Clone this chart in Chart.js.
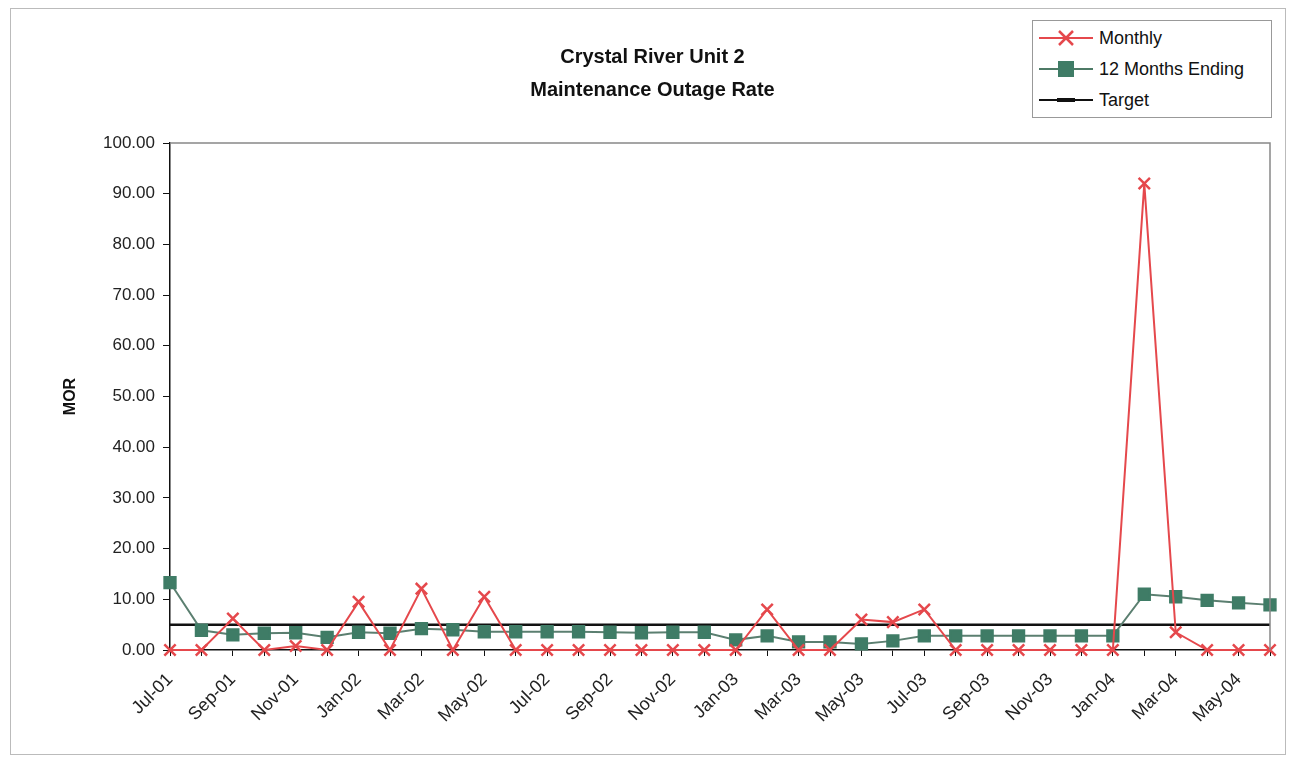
<!DOCTYPE html>
<html>
<head>
<meta charset="utf-8">
<script src="https://cdn.jsdelivr.net/npm/chart.js@4.4.1/dist/chart.umd.min.js"></script>
<style>
  html,body{margin:0;padding:0;background:#fff;}
  #wrap{position:relative;width:1293px;height:762px;}
  #title{position:absolute;left:0;width:1305px;top:40px;text-align:center;font:bold 20px "Liberation Sans",Arial,sans-serif;color:#111;line-height:33px;}
  #legend{position:absolute;left:1032px;top:20px;width:238px;height:96px;border:1px solid #999;background:#fff;font:18px "Liberation Sans",Arial,sans-serif;color:#111;}
  #legend .row{position:absolute;left:6px;height:24px;display:flex;align-items:center;}
  #legend svg{margin-right:6px;}
</style>
</head>
<body>
<div id="wrap">
  <canvas id="c" width="1293" height="762"></canvas>
  <div id="title">Crystal River Unit 2<br>Maintenance Outage Rate</div>
  <div id="legend">
    <div class="row" style="top:5px"><svg width="54" height="20"><line x1="0" y1="10" x2="54" y2="10" stroke="#e5484c" stroke-width="2"/><path d="M20 3 L34 17 M34 3 L20 17" stroke="#e5484c" stroke-width="2.5"/></svg>Monthly</div>
    <div class="row" style="top:36px"><svg width="54" height="20"><line x1="0" y1="10" x2="54" y2="10" stroke="#4d7a66" stroke-width="2"/><rect x="19" y="2" width="16" height="16" fill="#3f7c66"/></svg>12 Months Ending</div>
    <div class="row" style="top:67px"><svg width="54" height="20"><line x1="0" y1="10" x2="54" y2="10" stroke="#111" stroke-width="2"/><rect x="18" y="8" width="18" height="4" fill="#111"/></svg>Target</div>
  </div>
</div>
<script>
const months = ["Jul-01","Aug-01","Sep-01","Oct-01","Nov-01","Dec-01","Jan-02","Feb-02","Mar-02","Apr-02","May-02","Jun-02",
  "Jul-02","Aug-02","Sep-02","Oct-02","Nov-02","Dec-02","Jan-03","Feb-03","Mar-03","Apr-03","May-03","Jun-03",
  "Jul-03","Aug-03","Sep-03","Oct-03","Nov-03","Dec-03","Jan-04","Feb-04","Mar-04","Apr-04","May-04","Jun-04"];
const monthly = [0,0,6.2,0,0.8,0,9.5,0,12.1,0,10.5,0,
  0,0,0,0,0,0,0,8.0,0,0,6.0,5.5,
  8.0,0,0,0,0,0,0,92.0,3.5,0,0,0];
const twelveMonths = [13.3,3.9,3.0,3.3,3.4,2.5,3.5,3.3,4.2,4.0,3.6,3.6,
  3.6,3.6,3.5,3.4,3.5,3.5,2.0,2.8,1.6,1.6,1.2,1.8,
  2.8,2.8,2.8,2.8,2.8,2.8,2.8,11.0,10.5,9.8,9.3,8.9];
const target = months.map(() => 5.0);
const yTicks = [0,10,20,30,40,50,60,70,80,90,100];

const frame = {
  id: 'frame',
  beforeDraw(chart) {
    const ctx = chart.ctx;
    ctx.save();
    ctx.strokeStyle = '#bbb';
    ctx.lineWidth = 1;
    ctx.strokeRect(10.5, 8.5, 1275, 746);
    ctx.restore();
  },
  afterDatasetsDraw(chart) {
    const a = chart.chartArea, ctx = chart.ctx;
    ctx.save();
    ctx.strokeStyle = '#888';
    ctx.lineWidth = 1.5;
    ctx.beginPath();
    ctx.moveTo(a.left, a.top); ctx.lineTo(a.right, a.top); ctx.lineTo(a.right, a.bottom);
    ctx.stroke();
    ctx.restore();
  }
};

new Chart(document.getElementById('c'), {
  type: 'line',
  data: {
    labels: months,
    datasets: [
      { label: 'Target', data: target, borderColor: '#111', borderWidth: 2.5, pointRadius: 0, order: 3, clip: false },
      { label: '12 Months Ending', data: twelveMonths, borderColor: '#5b7f70', borderWidth: 2, clip: false,
        pointStyle: 'rect', pointRadius: 8, pointBackgroundColor: '#3f7c66', pointBorderColor: '#3f7c66', order: 2 },
      { label: 'Monthly', data: monthly, borderColor: '#e5484c', borderWidth: 2, clip: false,
        pointStyle: 'cross', rotation: 45, pointRadius: 8, pointBorderWidth: 2.5, pointBorderColor: '#e5484c', order: 1 }
    ]
  },
  options: {
    responsive: false,
    animation: false,
    layout: { padding: { left: 61, right: 23, top: 143, bottom: 0 } },
    plugins: { legend: { display: false }, title: { display: false }, tooltip: { enabled: false } },
    scales: {
      x: {
        offset: false,
        afterFit: s => { s.height = 112; s.paddingRight = 0; s.paddingLeft = 0; },
        grid: { display: true, drawOnChartArea: false, tickLength: 6, color: '#111' },
        border: { color: '#111', width: 1.5 },
        ticks: {
          autoSkip: false, maxRotation: 45, minRotation: 45, color: '#222', padding: 13,
          font: { family: '"Liberation Sans", Arial, sans-serif', size: 18 },
          callback: (v, i) => (i % 2 === 0 ? months[i] : '')
        }
      },
      y: {
        min: 0, max: 100,
        afterFit: s => { s.width = 109; },
        afterBuildTicks: s => { s.ticks = yTicks.map(v => ({ value: v })); },
        grid: { display: true, drawOnChartArea: false, tickLength: 7, color: '#111' },
        border: { color: '#111', width: 1.5 },
        title: { display: true, text: 'MOR', color: '#111', font: { family: '"Liberation Sans", Arial, sans-serif', size: 16, weight: 'bold' }, padding: { top: 0, bottom: 0 } },
        ticks: {
          color: '#222', padding: 8,
          font: { family: '"Liberation Sans", Arial, sans-serif', size: 17 },
          callback: v => Number(v).toFixed(2)
        }
      }
    }
  },
  plugins: [frame]
});
</script>
</body>
</html>
